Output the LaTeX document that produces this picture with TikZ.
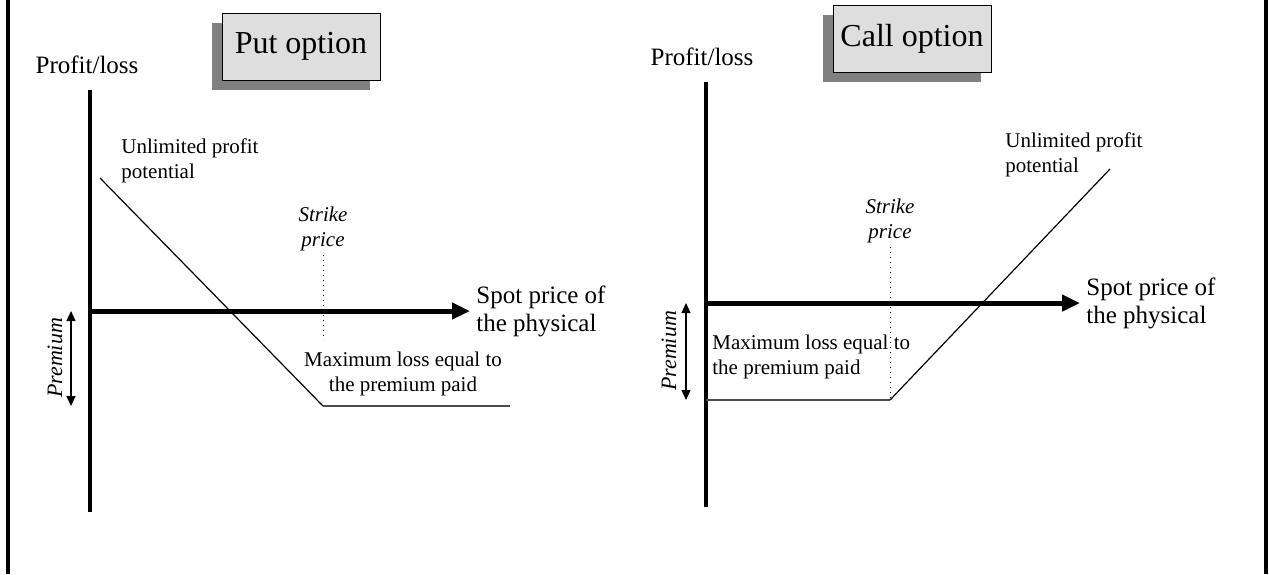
\documentclass[tikz,border=0pt]{standalone}
\usepackage{fontspec}
\setmainfont{Liberation Serif}
\usetikzlibrary{positioning}
\usetikzlibrary{arrows.meta}
\usetikzlibrary{shadows}

\begin{document}
\begin{tikzpicture}[
		x=0.5pt, y=-0.5pt,
		% Style definitions
		frameline/.style={line width=2pt},
		yaxis/.style={line width=2pt},
		xaxis/.style={line width=2.5pt, -{Triangle[length=9pt, width=8pt]}},
		payoff/.style={line width=0.6pt},
		floorline/.style={line width=1pt, black!70},
		strikeline/.style={dotted, line width=0.5pt},
		premarrow/.style={{Triangle[length=5pt, width=4.5pt]}-{Triangle[length=5pt, width=4.5pt]}, line width=0.6pt},
		titlebox/.style={draw, line width=0.5pt, fill=black!13, font=\fontsize{16}{19}\selectfont, minimum width=79pt, minimum height=33.5pt, drop shadow={shadow xshift=-5pt, shadow yshift=-5pt, fill=black!50, opacity=1}},
		axislabel/.style={font=\fontsize{12.5}{14}\selectfont, align=left, inner sep=0pt},
		note/.style={font=\fontsize{10.5}{12.5}\selectfont, inner sep=0pt},
		strikelabel/.style={font=\fontsize{10.5}{12.5}\selectfont\itshape, align=center, inner sep=0pt},
		premlabel/.style={font=\fontsize{11}{12}\selectfont\itshape, rotate=90, inner sep=0pt},
		]
		\useasboundingbox (0,0) rectangle (1269,574);

		% === Frame: left and right rules ===
		\draw[frameline] (8,0) -- (8,574);
		\draw[frameline] (1266,0) -- (1266,574);

		% === LEFT: put option ===
		\coordinate (porig) at (90,311);
		\coordinate (ptop) at (90,90);
		\coordinate (pbot) at (90,512);
		\coordinate (pspot) at (470,311);
		\node[titlebox] (puttitle) at (301,46.5) {Put option};
		\node[axislabel] (pprofit) at (87,65) {Profit/loss};
		\node[axislabel, right=3pt of pspot] (pspotlabel) {Spot price of\\the physical};

		% axes
		\draw[yaxis] (ptop) -- (pbot);
		\draw[xaxis] (porig) -- (pspot);

		% payoff
		\coordinate (pstart) at (100,178);
		\coordinate (pkink) at (323,406);
		\coordinate (pend) at (510,406);
		\draw[payoff] (pstart) -- (pkink);
		\draw[floorline] (pkink) -- (pend);
		\node[note, align=left, anchor=west] (pgain) at (121,161) {Unlimited profit\\potential};
		\node[note, align=center] (ploss) at (403,374) {Maximum loss equal to\\the premium paid};

		% strike
		\coordinate (pstriketop) at (323,255);
		\coordinate (pstrikebot) at (323,340);
		\draw[strikeline] (pstriketop) -- (pstrikebot);
		\node[strikelabel, above=2pt of pstriketop] (pstrike) {Strike\\price};

		% premium
		\coordinate (ppremtop) at (71,311);
		\coordinate (ppremdn) at (71,406);
		\draw[premarrow] (ppremtop) -- (ppremdn);
		\node[premlabel] (pprem) at (55,358) {Premium};

		% === RIGHT: call option ===
		\coordinate (corig) at (706,303);
		\coordinate (ctop) at (706,82);
		\coordinate (cbot) at (706,507);
		\coordinate (cspot) at (1080,303);
		\node[titlebox] (calltitle) at (912,38.5) {Call option};
		\node[axislabel] (cprofit) at (702,57) {Profit/loss};
		\node[axislabel, right=3pt of cspot] (cspotlabel) {Spot price of\\the physical};

		% axes
		\draw[yaxis] (ctop) -- (cbot);
		\draw[xaxis] (corig) -- (cspot);

		% payoff
		\coordinate (cstart) at (706,400);
		\coordinate (ckink) at (890,400);
		\coordinate (cend) at (1110,169);
		\draw[floorline] (cstart) -- (ckink);
		\draw[payoff] (ckink) -- (cend);
		\node[note, align=left, anchor=west] (cgain) at (1005,155) {Unlimited profit\\potential};
		\node[note, align=left, anchor=west] (closs) at (712,357) {Maximum loss equal to\\the premium paid};

		% strike
		\coordinate (cstriketop) at (890,247);
		\draw[strikeline] (cstriketop) -- (ckink);
		\node[strikelabel, above=2pt of cstriketop] (cstrike) {Strike\\price};

		% premium
		\coordinate (cpremtop) at (686,303);
		\coordinate (cpremdn) at (686,400);
		\draw[premarrow] (cpremtop) -- (cpremdn);
		\node[premlabel] (cprem) at (669,351) {Premium};

	\end{tikzpicture}
\end{document}
